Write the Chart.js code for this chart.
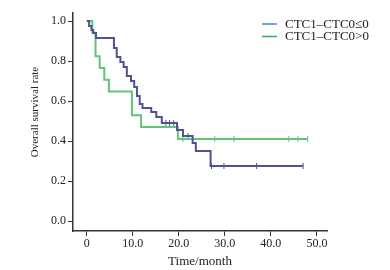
<!DOCTYPE html>
<html>
<head>
<meta charset="utf-8">
<script src="https://cdn.jsdelivr.net/npm/chart.js@4/dist/chart.umd.min.js"></script>
<style>
html,body{margin:0;padding:0;background:#fff;}
#wrap{width:390px;height:270px;position:relative;}
</style>
</head>
<body>
<div id="wrap"><canvas id="c" width="390" height="270"></canvas></div>
<script>
// ---- data ----
const seriesLabels = ['CTC1\u2013CTC0\u22640', 'CTC1\u2013CTC0>0'];
const blueTimes = [0, 0.5, 1.0, 1.4, 2.0, 5.9, 6.5, 7.3, 8.0, 8.7, 9.6, 10.3, 10.9, 11.5, 12.1, 14.0, 15.1, 16.3, 19.6, 20.9, 23.0, 23.7, 26.9, 47];
const blueSurv  = [1, 0.975, 0.955, 0.94, 0.915, 0.865, 0.82, 0.795, 0.77, 0.725, 0.70, 0.67, 0.625, 0.585, 0.565, 0.545, 0.52, 0.49, 0.455, 0.425, 0.39, 0.35, 0.275, 0.275];
const blueCensT = [17.2, 18.0, 18.9, 22.0, 27.1, 29.8, 36.9, 47];
const blueCensS = [0.49, 0.49, 0.49, 0.425, 0.275, 0.275, 0.275, 0.275];
const greenTimes = [0, 1.2, 1.9, 2.8, 3.8, 4.8, 9.8, 11.8, 19.8, 48];
const greenSurv  = [1, 0.941, 0.824, 0.765, 0.706, 0.647, 0.529, 0.47, 0.41, 0.41];
const greenCensT = [20.9, 27.8, 32.0, 43.9, 45.9, 48];
const greenCensS = [0.41, 0.41, 0.41, 0.41, 0.41, 0.41];
const xTickValues = [0, 10, 20, 30, 40, 50];
const yTickValues = [0, 0.2, 0.4, 0.6, 0.8, 1.0];
const xTitle = 'Time/month';
const yTitle = 'Overall survival rate';

// ---- styles ----
const BLUE = '#4f5394', GREEN = '#62c47c';
const LEG_BLUE = '#4a86c8', LEG_GREEN = '#3aa85a';
const FONT = "'Liberation Serif','Times New Roman',serif";
const TXT = '#222';
const AX = '#333';

const pts = (xs, ys) => xs.map((x, i) => ({x: x, y: ys[i]}));

const legendPlugin = {
  id: 'customLegend',
  afterDraw(chart) {
    const ctx = chart.ctx;
    ctx.save();
    ctx.font = '13px ' + FONT;
    ctx.textBaseline = 'middle';
    const rows = [[seriesLabels[0], LEG_BLUE, 24], [seriesLabels[1], LEG_GREEN, 36.5]];
    rows.forEach(r => {
      ctx.strokeStyle = r[1];
      ctx.lineWidth = 1.5;
      ctx.beginPath();
      ctx.moveTo(262, r[2]);
      ctx.lineTo(277, r[2]);
      ctx.stroke();
      ctx.fillStyle = TXT;
      ctx.textAlign = 'left';
      ctx.fillText(r[0], 285, r[2] + 0.5);
    });
    // y title
    ctx.translate(35, 112);
    ctx.rotate(-Math.PI / 2);
    ctx.font = '11px ' + FONT;
    ctx.textAlign = 'center';
    ctx.fillText(yTitle, 0, 0);
    ctx.restore();
  }
};

new Chart(document.getElementById('c'), {
  type: 'line',
  data: {
    datasets: [
      {label: seriesLabels[0], data: pts(blueTimes, blueSurv), borderColor: BLUE, borderWidth: 2, stepped: true, pointRadius: 0, fill: false},
      {label: seriesLabels[1], data: pts(greenTimes, greenSurv), borderColor: GREEN, borderWidth: 2, stepped: true, pointRadius: 0, fill: false},
      {label: 'c1', data: pts(blueCensT, blueCensS), showLine: false, pointStyle: 'line', rotation: 90, pointRadius: 3, borderColor: BLUE, borderWidth: 1},
      {label: 'c2', data: pts(greenCensT, greenCensS), showLine: false, pointStyle: 'line', rotation: 90, pointRadius: 3, borderColor: GREEN, borderWidth: 1}
    ]
  },
  options: {
    responsive: false,
    animation: false,
    events: [],
    layout: {padding: {left: 0, right: 63, top: 13, bottom: 0}},
    plugins: {legend: {display: false}, tooltip: {enabled: false}},
    scales: {
      x: {
        type: 'linear', min: -3, max: 52.2,
        afterBuildTicks: s => { s.ticks = xTickValues.map(v => ({value: v})); },
        afterFit: s => { s.height = 39; },
        grid: {display: true, drawOnChartArea: false, drawTicks: true, tickLength: 5, color: AX, lineWidth: 1},
        border: {display: true, color: AX, width: 1.5},
        ticks: {color: TXT, font: {family: FONT, size: 12}, padding: 1, maxRotation: 0,
          callback: v => v === 0 ? '0' : v.toFixed(1)},
        title: {display: true, text: xTitle, color: TXT, font: {family: FONT, size: 13}, padding: {top: 0, bottom: 0.5}}
      },
      y: {
        type: 'linear', min: -0.05, max: 1.04,
        afterBuildTicks: s => { s.ticks = yTickValues.map(v => ({value: v})); },
        afterFit: s => { s.width = 73; },
        grid: {display: true, drawOnChartArea: false, drawTicks: true, tickLength: 5, color: AX, lineWidth: 1},
        border: {display: true, color: AX, width: 1.5},
        ticks: {color: TXT, font: {family: FONT, size: 12}, padding: 2,
          callback: v => v.toFixed(1)}
      }
    }
  },
  plugins: [legendPlugin]
});
</script>
</body>
</html>
